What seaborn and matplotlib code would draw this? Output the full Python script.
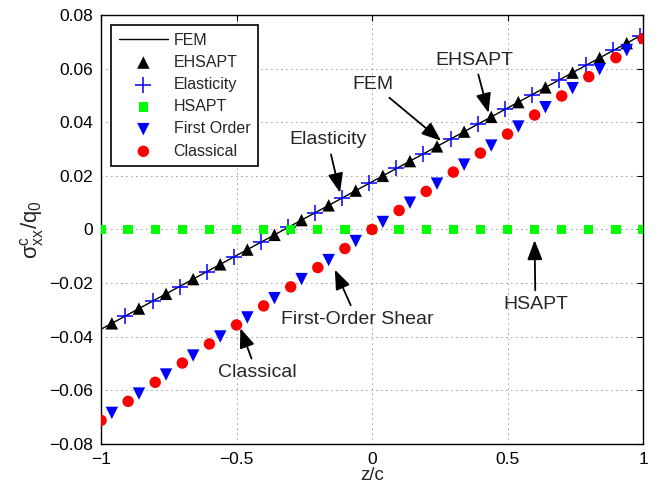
import matplotlib
matplotlib.use("Agg")
import matplotlib.pyplot as plt
import seaborn as sns

# Normalised core bending stress sigma_xx^c / q0 through the core thickness z/c
z_grid = [-1.0, -0.9, -0.8, -0.7, -0.6, -0.5, -0.4, -0.3, -0.2, -0.1, 0.0,
          0.1, 0.2, 0.3, 0.4, 0.5, 0.6, 0.7, 0.8, 0.9, 1.0]
z_tri = [-0.96, -0.86, -0.76, -0.66, -0.56, -0.46, -0.36, -0.26, -0.16, -0.06,
         0.04, 0.14, 0.24, 0.34, 0.44, 0.54, 0.64, 0.74, 0.84, 0.94]
z_plus = [-0.91, -0.81, -0.71, -0.61, -0.51, -0.41, -0.31, -0.21, -0.11, -0.01,
          0.09, 0.19, 0.29, 0.39, 0.49, 0.59, 0.69, 0.79, 0.89, 0.99]

z_fem = [-1.0, -0.5, 0.0, 0.5, 1.0]
fem = [-0.0372, -0.0097, 0.0178, 0.0453, 0.0728]

ehsapt = [-0.0350, -0.0295, -0.0240, -0.0185, -0.0130, -0.0075, -0.0020, 0.0035,
          0.0090, 0.0145, 0.0200, 0.0255, 0.0310, 0.0365, 0.0420, 0.0475,
          0.0530, 0.0585, 0.0640, 0.0695]
elasticity = [-0.0323, -0.0268, -0.0213, -0.0158, -0.0103, -0.0048, 0.0008, 0.0063,
              0.0118, 0.0173, 0.0228, 0.0283, 0.0338, 0.0393, 0.0448, 0.0503,
              0.0558, 0.0613, 0.0668, 0.0723]
hsapt = [0.0] * 21
first_order = [-0.0684, -0.0612, -0.0541, -0.0470, -0.0399, -0.0328, -0.0256, -0.0185,
               -0.0114, -0.0043, 0.0028, 0.0100, 0.0171, 0.0242, 0.0313, 0.0384,
               0.0456, 0.0527, 0.0598, 0.0669]
classical = [-0.0712, -0.0641, -0.0570, -0.0498, -0.0427, -0.0356, -0.0285, -0.0214,
             -0.0142, -0.0071, 0.0, 0.0071, 0.0142, 0.0214, 0.0285, 0.0356,
             0.0427, 0.0498, 0.0570, 0.0641, 0.0712]

x_ticks = [-1, -0.5, 0, 0.5, 1]
x_labels = ["\u22121", "\u22120.5", "0", "0.5", "1"]
y_ticks = [-0.08, -0.06, -0.04, -0.02, 0, 0.02, 0.04, 0.06, 0.08]
y_labels = ["\u22120.08", "\u22120.06", "\u22120.04", "\u22120.02", "0",
            "0.02", "0.04", "0.06", "0.08"]

# Callouts: (text, text position, arrow tip)
callouts = [
    ("Elasticity", (-0.164, 0.0334), (-0.118, 0.0137)),
    ("FEM", (0.004, 0.0542), (0.255, 0.0331)),
    ("EHSAPT", (0.378, 0.0632), (0.430, 0.0435)),
    ("HSAPT", (0.603, -0.0281), (0.600, -0.0040)),
    ("First-Order Shear", (-0.055, -0.0336), (-0.137, -0.0150)),
    ("Classical", (-0.425, -0.0535), (-0.486, -0.0368)),
]

sns.set_theme(style="white")
plt.rcParams["font.family"] = ["Liberation Sans", "DejaVu Sans"]
plt.rcParams["mathtext.fontset"] = "custom"
plt.rcParams["mathtext.rm"] = "Liberation Sans"
plt.rcParams["mathtext.it"] = "Liberation Sans"
plt.rcParams["mathtext.sf"] = "Liberation Sans"

fig = plt.figure(figsize=(6.62, 4.87), dpi=100)
ax = fig.add_axes([0.1526, 0.0883, 0.8187, 0.8809])

sns.lineplot(x=z_fem, y=fem, color="black", linewidth=1.0, label="FEM", ax=ax)
sns.scatterplot(x=z_tri, y=ehsapt, marker="^", s=80, color="black",
                edgecolor="none", label="EHSAPT", ax=ax, zorder=3)
sns.scatterplot(x=z_plus, y=elasticity, marker="+", s=125, color="blue",
                linewidth=1.1, label="Elasticity", ax=ax, zorder=3)
sns.scatterplot(x=z_grid, y=hsapt, marker="s", s=45, color="#00ff00",
                edgecolor="none", label="HSAPT", ax=ax, zorder=3)
sns.scatterplot(x=z_tri, y=first_order, marker="v", s=80, color="blue",
                edgecolor="none", label="First Order", ax=ax, zorder=3)
sns.scatterplot(x=z_grid, y=classical, marker="o", s=68, color="red",
                edgecolor="none", label="Classical", ax=ax, zorder=3)

ax.set_xlim(-1, 1)
ax.set_ylim(-0.08, 0.08)
ax.set_xticks(x_ticks)
ax.set_xticklabels(x_labels)
ax.set_yticks(y_ticks)
ax.set_yticklabels(y_labels)
ax.tick_params(direction="in", length=4, width=0.8, top=True, right=True,
               labelsize=12.5, colors="black", pad=6)
for sp in ax.spines.values():
    sp.set_color("black")
    sp.set_linewidth(1.0)
ax.grid(True, color="#333333", linestyle=(0, (1, 5)), linewidth=0.6)
ax.set_axisbelow(True)

ax.set_xlabel("z/c", fontsize=13.5, labelpad=0)
ax.set_ylabel(r"$\mathrm{\sigma^{c}_{xx}/q_{0}}$", fontsize=16, labelpad=2)

for text, xytext, xy in callouts:
    ax.annotate(text, xy=xy, xytext=xytext, fontsize=14, ha="center", va="center",
                arrowprops=dict(arrowstyle="-|>,head_length=0.85,head_width=0.33",
                                color="black", lw=1.3, shrinkA=2, shrinkB=0))

leg = ax.legend(loc="upper left", fontsize=11.5, frameon=True, fancybox=False,
                edgecolor="black", framealpha=1, handlelength=3.1,
                handletextpad=0.35, labelspacing=0.45, borderpad=0.5,
                borderaxespad=0.6, scatterpoints=1)
leg.get_frame().set_linewidth(1.2)

fig.savefig("out.png", dpi=100)
